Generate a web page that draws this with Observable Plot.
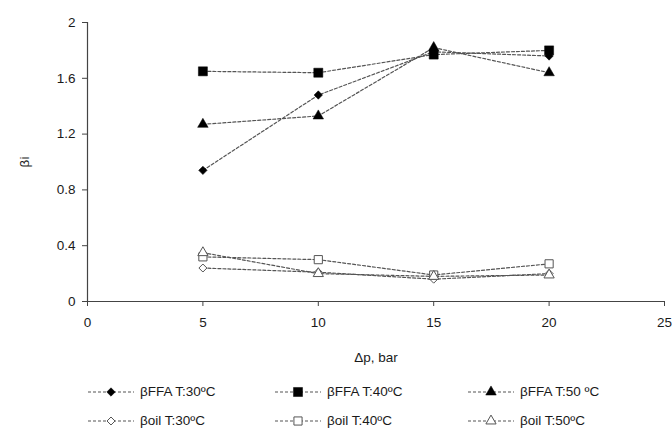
<!DOCTYPE html>
<html><head><meta charset="utf-8">
<script src="https://cdn.jsdelivr.net/npm/d3@7"></script>
<script src="https://cdn.jsdelivr.net/npm/@observablehq/plot@0.6"></script>
<style>
body{margin:0;background:#fff;font-family:"Liberation Sans",Arial,sans-serif;}
#wrap{position:relative;width:672px;height:437px;}
.leg{position:absolute;display:flex;align-items:center;font-size:13.5px;color:#1a1a1a;}
.leg svg{margin-right:6px;}
</style></head>
<body><div id="wrap"></div>
<script>
const pressures = [5, 10, 15, 20];
const ffa30 = [0.94, 1.48, 1.79, 1.76];
const ffa40 = [1.65, 1.64, 1.77, 1.80];
const ffa50 = [1.27, 1.33, 1.82, 1.64];
const oil30 = [0.24, 0.21, 0.16, 0.20];
const oil40 = [0.32, 0.30, 0.19, 0.27];
const oil50 = [0.35, 0.20, 0.18, 0.19];
const seriesNames = ["βFFA T:30ºC","βFFA T:40ºC","βFFA T:50 ºC","βoil T:30ºC","βoil T:40ºC","βoil T:50ºC"];
const seriesValues = [ffa30, ffa40, ffa50, oil30, oil40, oil50];
const symbols = ["diamond2","square","triangle","diamond2","square","triangle"];
const filled = [true,true,true,false,false,false];
const xTicks = [0,5,10,15,20,25];
const yTicks = [0,0.4,0.8,1.2,1.6,2];

const rows = [];
seriesNames.forEach((name,i)=>pressures.forEach((p,j)=>rows.push({series:name,i,p,v:seriesValues[i][j]})));

const rSize = i => {
  const s = symbols[i];
  if (s==="diamond2") return filled[i]?3.8:3.6;
  if (s==="square") return filled[i]?5.1:4.6;
  return filled[i]?3.9:3.8;
};

const marks = [
  Plot.ruleX([0],{stroke:"#444",strokeWidth:1.2}),
  Plot.ruleY([0],{stroke:"#444",strokeWidth:1.2}),
  Plot.axisY({ticks:yTicks,tickFormat:d3.format("~g"),tickSize:5,tickPadding:7,fontSize:13.5,stroke:"#444",label:"βi",labelAnchor:"center",labelOffset:68,labelArrow:"none"}),
  Plot.axisX({ticks:xTicks,tickSize:5,tickPadding:11,fontSize:13.5,stroke:"#444",label:"Δp, bar",labelAnchor:"center",labelOffset:60,labelArrow:"none"}),
];
seriesNames.forEach((name,i)=>{
  const d = rows.filter(r=>r.i===i);
  marks.push(Plot.line(d,{x:"p",y:"v",stroke:"#555",strokeWidth:1.2,strokeDasharray:"3,2"}));
});
seriesNames.forEach((name,i)=>{
  const d = rows.filter(r=>r.i===i);
  marks.push(Plot.dot(d,{x:"p",y:"v",symbol:()=>symbols[i],r:rSize(i),
    fill: filled[i] ? "#000" : "#fff", stroke: filled[i] ? "#000" : "#555", strokeWidth: filled[i]?0.5:1}));
});

const chart = Plot.plot({
  width:672, height:370,
  marginLeft:87, marginRight:8, marginTop:22, marginBottom:69,
  style:{fontFamily:"Liberation Sans, Arial, sans-serif",fontSize:"13.5px",color:"#1a1a1a"},
  x:{domain:[0,25],range:[87,664]},
  y:{domain:[0,2]},
  marks
});
const wrap = document.getElementById("wrap");
wrap.appendChild(chart);

// legend
const colX = [88, 275, 468];
const rowY = [384, 413];
seriesNames.forEach((name,i)=>{
  const div = document.createElement("div");
  div.className="leg";
  div.style.left = colX[i%3]+"px";
  div.style.top = rowY[Math.floor(i/3)]+"px";
  const w=46,h=14;
  const s = d3.create("svg").attr("width",w).attr("height",h);
  s.append("line").attr("x1",0).attr("x2",w).attr("y1",h/2).attr("y2",h/2)
    .attr("stroke","#555").attr("stroke-width",1.2).attr("stroke-dasharray","3,2");
  const symMap={diamond2:d3.symbolDiamond2,square:d3.symbolSquare,triangle:d3.symbolTriangle};
  const r=rSize(i);
  s.append("path").attr("transform",`translate(${w/2},${h/2})`)
    .attr("d",d3.symbol(symMap[symbols[i]],Math.PI*r*r)())
    .attr("fill",filled[i]?"#000":"#fff").attr("stroke",filled[i]?"#000":"#555").attr("stroke-width",filled[i]?0.5:1);
  div.appendChild(s.node());
  const t=document.createElement("span"); t.textContent=name; div.appendChild(t);
  wrap.appendChild(div);
});
</script></body></html>
